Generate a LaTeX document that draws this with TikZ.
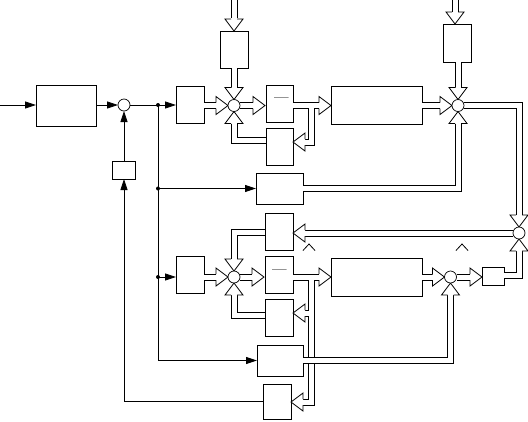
\documentclass[tikz,border=0pt]{standalone}
\usetikzlibrary{arrows.meta,calc}
\newcommand{\hhead}[2]{\filldraw[fill=white,draw=black,line width=0.8pt,line join=miter,shift={#1},rotate=#2] (-12,3) -- (-12,9) -- (0,0) -- (-12,-9) -- (-12,-3);}
\begin{document}
\begin{tikzpicture}[x=1pt,y=-1pt,
  box/.style={draw, line width=0.8pt, inner sep=0pt, outer sep=0pt},
  sumc/.style={draw, circle, line width=0.7pt, fill=white, minimum size=12pt, inner sep=0pt, outer sep=0pt},
  thinline/.style={line width=0.8pt},
  arr/.style={thinline, -{Triangle[length=11pt,width=7pt]}},
  dot/.style={circle, fill, inner sep=0pt, minimum size=4pt},
  dashtext/.style={inner sep=0pt, font=\fontsize{13}{13}\selectfont\bfseries}]
\useasboundingbox (0,0) rectangle (528,421);

% boxes
\node[box, minimum width=60, minimum height=41] (B0) at (66,105.5) {};
\node[box, minimum width=23, minimum height=18] (F) at (124,170) {};
\node[box, minimum width=28, minimum height=37] (A1) at (190,104.5) {};
\node[box, minimum width=28, minimum height=37] (T1) at (234,49.5) {};
\node[box, minimum width=27, minimum height=37] (D1) at (279.5,103.5) {};
\node[box, minimum width=27, minimum height=37] (E1) at (279.5,146.5) {};
\node[box, minimum width=91, minimum height=38] (G1) at (376.5,105) {};
\node[box, minimum width=28, minimum height=38] (T2) at (457,43) {};
\node[box, minimum width=47, minimum height=31] (M1) at (279.5,188.5) {};
\node[box, minimum width=28, minimum height=37] (K2) at (279,231.5) {};
\node[box, minimum width=28, minimum height=37] (A2) at (190,274.5) {};
\node[box, minimum width=28, minimum height=37] (D2) at (279,274.5) {};
\node[box, minimum width=28, minimum height=37] (E2) at (279,317.5) {};
\node[box, minimum width=91, minimum height=38] (G2) at (376.5,277) {};
\node[box, minimum width=22, minimum height=18] (H) at (493,276) {};
\node[box, minimum width=46, minimum height=31] (M2) at (280,360.5) {};
\node[box, minimum width=28, minimum height=35] (Bb) at (277,401.5) {};

% summing points (positions)
\coordinate (S0) at (124,105);
\coordinate (S1) at (234,105.5);
\coordinate (S2) at (458,105.5);
\coordinate (S3) at (519,233);
\coordinate (S4) at (234,277);
\coordinate (S5) at (450.5,277);
\coordinate (in0) at (0,105);
\coordinate (in1) at (234,0);
\coordinate (in2) at (455,0);

\newcommand{\shaftpaths}{%
 \draw (in1) -- ($(T1.north)+(0,-13)$);
 \draw (T1.south) -- ($(S1)+(0,-18)$);
 \draw (A1.east |- S1) -- ($(S1)+(-18,0)$);
 \draw ($(S1)+(6,0)$) -- ($(D1.west |- S1)+(-13,0)$);
 \draw (D1.east |- S1) -- ($(G1.west |- S1)+(-12,0)$);
 \draw (311,105.5) -- (311,142) -- ($(E1.east)+(12,-4.5)$);
 \draw ($(E1.west)+(0,-6)$) -- (234,140.5) -- ($(S1)+(0,18)$);
 \draw (in2) -- ($(T2.north)+(-2,-12)$);
 \draw (T2.south -| S2) -- ($(S2)+(0,-18)$);
 \draw (G1.east |- S2) -- ($(S2)+(-18,0)$);
 \draw ($(S2)+(6,0)$) -- (519,105.5) -- ($(S3)+(0,-18)$);
 \draw (M1.east) -- (458,188.5) -- ($(S2)+(0,18)$);
 \draw ($(S3)+(-6,0)$) -- ($(K2.east |- S3)+(12,0)$);
 \draw ($(K2.west)+(0,0.5)$) -- (234,232) -- ($(S4)+(0,-18)$);
 \draw (A2.east |- S4) -- ($(S4)+(-18,0)$);
 \draw ($(S4)+(6,0)$) -- ($(D2.west |- S4)+(-13,0)$);
 \draw (D2.east |- S4) -- ($(G2.west |- S4)+(-12,0)$);
 \draw (311,313) -- ($(E2.east)+(12,-4.5)$);
 \draw ($(E2.west)+(0,-2.5)$) -- (234,315) -- ($(S4)+(0,18)$);
 \draw (G2.east |- S5) -- ($(S5)+(-18,0)$);
 \draw ($(S5)+(6,0)$) -- ($(H.west |- S5)+(-12,0)$);
 \draw (M2.east) -- (450.5,360.5) -- ($(S5)+(0,18)$);
 \draw (311,277) -- (311,402) -- ($(Bb.east)+(12,0.5)$);
 \draw ($(H.east)+(0,-1)$) -- (519,275) -- ($(S3)+(0,18)$);
}
\begin{scope}[line width=7pt, black, line join=miter, line cap=butt]
 \shaftpaths
\end{scope}
\begin{scope}[line width=5pt, white, line join=miter, line cap=butt]
 \shaftpaths
\end{scope}
% crossing of the two double lines near M2
\draw[thinline] (303,357.5) -- (320,357.5) (303,363.5) -- (320,363.5);

% hollow heads
\hhead{(T1.north)}{-90}
\hhead{($(S1)+(0,-6)$)}{-90}
\hhead{($(S1)+(-6,0)$)}{0}
\hhead{($(D1.west |- S1)+(-1,0)$)}{0}
\hhead{(G1.west |- S1)}{0}
\hhead{($(E1.east)+(0,-4.5)$)}{180}
\hhead{($(S1)+(0,6)$)}{90}
\hhead{($(T2.north)+(-2,0)$)}{-90}
\hhead{($(S2)+(0,-6)$)}{-90}
\hhead{($(S2)+(-6,0)$)}{0}
\hhead{($(S3)+(0,-6)$)}{-90}
\hhead{($(S2)+(0,6)$)}{90}
\hhead{(K2.east |- S3)}{180}
\hhead{($(S4)+(0,-6)$)}{-90}
\hhead{($(S4)+(-6,0)$)}{0}
\hhead{($(D2.west |- S4)+(-1,0)$)}{0}
\hhead{(G2.west |- S4)}{0}
\hhead{($(E2.east)+(0,-4.5)$)}{180}
\hhead{($(S4)+(0,6)$)}{90}
\hhead{($(S5)+(-6,0)$)}{0}
\hhead{(H.west |- S5)}{0}
\hhead{($(S5)+(0,6)$)}{90}
\hhead{($(Bb.east)+(0,0.5)$)}{180}
\hhead{($(S3)+(0,6)$)}{90}

% summing circles
\node[sumc] (C0) at (S0) {};
\node[sumc] (C1) at (S1) {};
\node[sumc] (C2) at (S2) {};
\node[sumc] (C3) at (S3) {};
\node[sumc] (C4) at (S4) {};
\node[sumc] (C5) at (S5) {};

% thin signal lines
\draw[arr] (in0) -- (B0.west |- in0);
\draw[arr] (B0.east |- C0) -- (C0.west);
\draw[arr] (C0.east) -- (A1.west |- C0);
\draw[arr] (F.north) -- (C0.south);
\draw[arr] (Bb.west) -- (124,401.5) -- (F.south);
\node[dot] (d1) at (158,105) {};
\node[dot] (d2) at (158,188.5) {};
\node[dot] (d3) at (158,277) {};
\draw[arr] (d1.center) -- (158,360.5) -- (M2.west);
\draw[arr] (d2.center) -- (M1.west);
\draw[arr] (d3.center) -- (A2.west |- d3);

% texts
\node[dashtext] (t1) at (281.5,100) {—};
\node[dashtext] (t2) at (279.5,271.5) {—};

% hat marks
\draw[thinline] (303,250.5) -- (309,244) -- (315,250.5);
\draw[thinline] (456,250.5) -- (462,244) -- (468,250.5);
\end{tikzpicture}
\end{document}
